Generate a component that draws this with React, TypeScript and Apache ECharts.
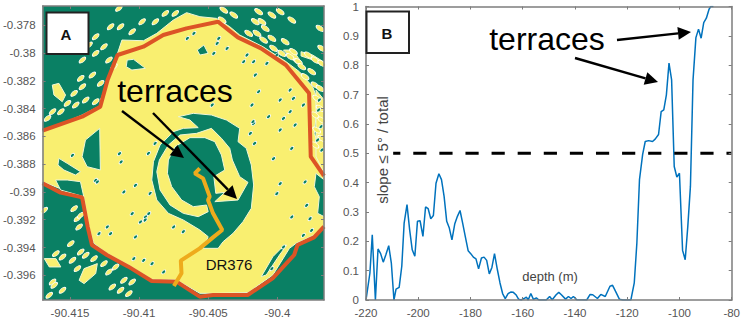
import React, { useEffect, useRef } from "react";
import * as echarts from "echarts";

type P = [number, number];

// Panel A – map values, longitude / latitude degrees
const lonTicks = [-90.415, -90.41, -90.405, -90.4];
const latTicks = [-0.378, -0.38, -0.382, -0.384, -0.386, -0.388, -0.39, -0.392, -0.394, -0.396];
const lonRange = [-90.41698, -90.39662];
const latRange = [-0.39778, -0.37661];

const surveyUpper: P[] = [[-90.41698,-0.38559],[-90.41412,-0.38458],[-90.41281,-0.38386],[-90.41228,-0.38194],[-90.41156,-0.38014],[-90.40969,-0.37954],[-90.40825,-0.3787],[-90.40657,-0.37822],[-90.40429,-0.37774],[-90.40285,-0.37887],[-90.40118,-0.37966],[-90.39938,-0.38086],[-90.3977,-0.3829],[-90.39758,-0.38746],[-90.39662,-0.38885]];
const surveyLower: P[] = [[-90.39662,-0.3925],[-90.39734,-0.39327],[-90.39854,-0.39382],[-90.39878,-0.39454],[-90.40034,-0.39622],[-90.40214,-0.39742],[-90.40465,-0.39742],[-90.40561,-0.39754],[-90.40729,-0.39646],[-90.40909,-0.39641],[-90.41077,-0.39538],[-90.41233,-0.39454],[-90.41341,-0.39382],[-90.41372,-0.3925],[-90.41412,-0.39039],[-90.41568,-0.39005],[-90.41698,-0.38938]];
const diveTrack: P[] = [[-90.40561,-0.3883],[-90.40597,-0.38866],[-90.40537,-0.38902],[-90.40489,-0.39034],[-90.40501,-0.39058],[-90.40465,-0.39154],[-90.40398,-0.39274],[-90.40465,-0.39327],[-90.40561,-0.39406],[-90.40698,-0.39495],[-90.40693,-0.39586],[-90.40748,-0.39677]];

const flatMain: P[] = [[-90.41698,-0.38566],[-90.41412,-0.38446],[-90.41285,-0.38381],[-90.4128,-0.38338],[-90.41208,-0.3817],[-90.41172,-0.3805],[-90.41124,-0.37906],[-90.40968,-0.37911],[-90.40872,-0.37858],[-90.40752,-0.37762],[-90.40656,-0.37709],[-90.4056,-0.37738],[-90.4044,-0.3775],[-90.40344,-0.3781],[-90.40272,-0.3787],[-90.40104,-0.37954],[-90.39936,-0.38062],[-90.3984,-0.38134],[-90.39744,-0.38242],[-90.39708,-0.38338],[-90.39732,-0.38578],[-90.39696,-0.38674],[-90.3966,-0.38866],[-90.3966,-0.3925],[-90.39732,-0.3931],[-90.39864,-0.3937],[-90.39912,-0.39406],[-90.40032,-0.39598],[-90.40212,-0.39725],[-90.40464,-0.3973],[-90.4056,-0.3973],[-90.40728,-0.39634],[-90.40908,-0.39629],[-90.41076,-0.39526],[-90.41232,-0.39442],[-90.41328,-0.3937],[-90.41364,-0.3925],[-90.414,-0.39034],[-90.41484,-0.3901],[-90.41698,-0.38926]];
const flatBlobA: P[] = [[-90.41628,-0.3823],[-90.4158,-0.38218],[-90.41532,-0.38302],[-90.41556,-0.3835],[-90.41616,-0.38302]];
const flatBlobB: P[] = [[-90.41434,-0.39636],[-90.41398,-0.39552],[-90.41302,-0.39516],[-90.41314,-0.39588],[-90.41398,-0.3966]];
const flatBlobC: P[] = [[-90.41686,-0.3948],[-90.41602,-0.3948],[-90.41566,-0.3954],[-90.4165,-0.3954]];
const flatBeltA: P[] = [[-90.39828,-0.3799],[-90.39744,-0.38014],[-90.39667,-0.38062],[-90.39667,-0.38086],[-90.39756,-0.38045],[-90.39828,-0.38021]];
const flatBeltB: P[] = [[-90.39955,-0.37978],[-90.39888,-0.37978],[-90.39828,-0.38062],[-90.39864,-0.38074]];
const flatBeltEast: P[] = [[-90.3972,-0.38266],[-90.3966,-0.38338],[-90.3966,-0.38866],[-90.3972,-0.38746]];

const steepWest: P[] = [[-90.41388,-0.38626],[-90.41285,-0.38542],[-90.4128,-0.38842],[-90.41376,-0.38818],[-90.41412,-0.38746]];
const steepWestStrip: P[] = [[-90.4158,-0.38758],[-90.4152,-0.38794],[-90.41424,-0.38854],[-90.4146,-0.38878],[-90.41544,-0.38842],[-90.41587,-0.38806]];
const steepSouthwest: P[] = [[-90.41604,-0.38914],[-90.4152,-0.38914],[-90.41424,-0.38926],[-90.414,-0.39034],[-90.41568,-0.38986]];
const steepEast: P[] = [[-90.3972,-0.38866],[-90.3966,-0.38914],[-90.3966,-0.39178],[-90.39708,-0.39154],[-90.39696,-0.39034],[-90.39732,-0.38962]];
const steepSoutheast: P[] = [[-90.39931,-0.39382],[-90.39984,-0.39454],[-90.4008,-0.39598],[-90.40116,-0.3961],[-90.40032,-0.39466],[-90.3996,-0.39394]];
const steepNorth: P[] = [[-90.40579,-0.37978],[-90.40531,-0.37942],[-90.405,-0.38002],[-90.4056,-0.38014]];
const steepNorthwest: P[] = [[-90.41086,-0.3805],[-90.4104,-0.38045],[-90.40954,-0.3811],[-90.41052,-0.38122],[-90.41093,-0.38098]];
const craterOuter: P[] = [[-90.40716,-0.38458],[-90.40608,-0.38434],[-90.40476,-0.38446],[-90.40368,-0.38482],[-90.40272,-0.38542],[-90.40284,-0.38638],[-90.40224,-0.38686],[-90.40188,-0.38806],[-90.40171,-0.3895],[-90.40188,-0.39118],[-90.40248,-0.39214],[-90.4032,-0.39298],[-90.40392,-0.39358],[-90.40428,-0.39406],[-90.40536,-0.39406],[-90.405,-0.39322],[-90.4056,-0.39274],[-90.4068,-0.39202],[-90.40788,-0.39154],[-90.40872,-0.39058],[-90.40908,-0.38914],[-90.40896,-0.38782],[-90.40848,-0.38662],[-90.40752,-0.38566],[-90.4068,-0.38542],[-90.40572,-0.38537],[-90.40632,-0.38482]];
const craterTerrace: P[] = [[-90.40572,-0.39178],[-90.4068,-0.39154],[-90.40776,-0.39094],[-90.40848,-0.38986],[-90.40872,-0.38854],[-90.40853,-0.3877],[-90.40788,-0.38662],[-90.40704,-0.3859],[-90.40584,-0.38578],[-90.40476,-0.38542],[-90.40404,-0.38614],[-90.40344,-0.38686],[-90.40325,-0.3877],[-90.40272,-0.3889],[-90.40212,-0.38931],[-90.40284,-0.39058],[-90.40452,-0.3907],[-90.4038,-0.39003],[-90.40445,-0.3901],[-90.40459,-0.3889],[-90.4038,-0.38842],[-90.40404,-0.38734],[-90.40452,-0.38638],[-90.40524,-0.38609],[-90.40632,-0.38609],[-90.4074,-0.38674],[-90.40788,-0.3877],[-90.40795,-0.38866],[-90.40764,-0.38962],[-90.40692,-0.39058],[-90.40608,-0.39106],[-90.40512,-0.39094],[-90.405,-0.39142]];

const westSpecks: P[] = [[-90.41314,-0.37882],[-90.41362,-0.37942],[-90.41206,-0.3781],[-90.41134,-0.3781],[-90.4105,-0.37846],[-90.4141,-0.3805],[-90.41314,-0.38002],[-90.41254,-0.37954],[-90.41218,-0.3805],[-90.41182,-0.38098],[-90.41338,-0.38158],[-90.41422,-0.38182],[-90.41278,-0.38218],[-90.4141,-0.38242],[-90.4147,-0.3829],[-90.41518,-0.38362],[-90.41386,-0.38338],[-90.41458,-0.38374],[-90.41314,-0.3835],[-90.41566,-0.38422],[-90.41626,-0.38422],[-90.41662,-0.3847],[-90.40978,-0.37774],[-90.40882,-0.37774],[-90.4081,-0.37714],[-90.40738,-0.37714],[-90.41146,-0.37678],[-90.41554,-0.39468],[-90.41482,-0.39492],[-90.41446,-0.39552],[-90.41602,-0.39444],[-90.41626,-0.39648],[-90.41554,-0.39708],[-90.41614,-0.39672],[-90.41194,-0.39684],[-90.41134,-0.39708],[-90.41074,-0.39732],[-90.4111,-0.39636],[-90.4105,-0.39648],[-90.41218,-0.39576],[-90.41326,-0.3948],[-90.41422,-0.39432],[-90.41386,-0.39456],[-90.41254,-0.39516],[-90.4117,-0.3954],[-90.4147,-0.3912],[-90.41446,-0.39192],[-90.41422,-0.39168],[-90.41434,-0.39252],[-90.41494,-0.39372],[-90.4165,-0.39744],[-90.41686,-0.39132]];
const eastSpecks: P[] = [[-90.40387,-0.3769],[-90.40399,-0.37762],[-90.40159,-0.37774],[-90.40111,-0.37774],[-90.40087,-0.37822],[-90.40039,-0.37726],[-90.39979,-0.37702],[-90.39895,-0.37762],[-90.40135,-0.37702],[-90.40207,-0.37858],[-90.40147,-0.37858],[-90.40099,-0.37906],[-90.40039,-0.37894],[-90.40027,-0.37966],[-90.39967,-0.38002],[-90.39943,-0.37918],[-90.39883,-0.3799],[-90.39907,-0.38026],[-90.39775,-0.38014],[-90.39727,-0.3805],[-90.39679,-0.38074],[-90.39847,-0.38062],[-90.39823,-0.38098],[-90.39799,-0.3817],[-90.39751,-0.38134],[-90.39727,-0.3823],[-90.39691,-0.38254],[-90.39715,-0.38326],[-90.39691,-0.38398],[-90.39727,-0.38446],[-90.39679,-0.38482],[-90.39715,-0.38554],[-90.39679,-0.38614],[-90.39727,-0.38662],[-90.39691,-0.37822],[-90.39679,-0.37966],[-90.40315,-0.37726]];
const steepSpecks: P[] = [[-90.40243,-0.38062],[-90.40171,-0.38062],[-90.40075,-0.38074],[-90.40003,-0.38014],[-90.40219,-0.38014],[-90.40435,-0.3793],[-90.40423,-0.37894],[-90.40363,-0.37966],[-90.40459,-0.38002],[-90.40603,-0.37858],[-90.40651,-0.37894],[-90.40159,-0.38158],[-90.40135,-0.38278],[-90.40183,-0.38374],[-90.39979,-0.38338],[-90.39907,-0.38266],[-90.39883,-0.38326],[-90.39907,-0.38422],[-90.40063,-0.38458],[-90.39955,-0.3847],[-90.40171,-0.38506],[-90.39979,-0.38554],[-90.39871,-0.38518],[-90.39811,-0.38374],[-90.39895,-0.38686],[-90.40195,-0.38578],[-90.40471,-0.38374],[-90.41482,-0.38736],[-90.41142,-0.38724],[-90.4113,-0.38784],[-90.41314,-0.38916],[-90.41026,-0.38952],[-90.4111,-0.39],[-90.4093,-0.39156],[-90.4105,-0.39156],[-90.4123,-0.39252],[-90.4129,-0.393],[-90.41206,-0.393],[-90.41026,-0.39324],[-90.4099,-0.39216],[-90.41038,-0.3948],[-90.40966,-0.39492],[-90.40906,-0.39516],[-90.40822,-0.39576],[-90.40954,-0.3918],[-90.4075,-0.39252],[-90.41302,-0.38928],[-90.39979,-0.3894],[-90.40003,-0.39012],[-90.39799,-0.38928],[-90.39787,-0.39096],[-90.39763,-0.39192],[-90.39895,-0.3918],[-90.39811,-0.39312],[-90.39751,-0.39276],[-90.39955,-0.39396],[-90.40039,-0.39552],[-90.40027,-0.3876],[-90.40932,-0.38722],[-90.40884,-0.3865],[-90.40956,-0.39202],[-90.40164,-0.3865],[-90.40176,-0.38494],[-90.4092,-0.3901],[-90.4068,-0.39286],[-90.39701,-0.3841],[-90.39684,-0.3853],[-90.39708,-0.38626],[-90.39677,-0.38698],[-90.39696,-0.38338]];

// Panel B – flat-slope share against depth
const depth = [-220,-218.5,-217.6,-216.4,-215.4,-214.4,-213.4,-212.4,-211.3,-210.3,-209.3,-208.5,-207.3,-206.3,-205.4,-204.3,-203.3,-202.3,-201.3,-200.3,-199.3,-198.2,-197.2,-196.2,-195.2,-194.2,-193.2,-192.1,-191.1,-190.1,-189.1,-188.1,-187.1,-186,-185,-184,-183,-182,-180.9,-179.9,-178.9,-177.9,-176.9,-175.8,-174.8,-173.8,-172.8,-171.8,-170.8,-169.7,-168.7,-167.7,-166.7,-165.6,-164.6,-163.6,-162.6,-161.6,-160.6,-159.5,-158.6,-157.9,-156.9,-155.9,-154.8,-153.8,-151,-149.7,-148.7,-147.2,-146.2,-145.2,-143.6,-142.5,-141.5,-140.6,-139.3,-135.5,-134.2,-133.2,-131.4,-130.1,-128.4,-126.6,-125.6,-124.5,-123,-121.7,-118.6,-117.3,-116.3,-115.3,-114.1,-113.1,-111.8,-110.3,-109.3,-108,-107,-106,-105,-104,-103,-102,-101,-100,-98.8,-97.8,-96.8,-95.8,-94.8,-93.7,-92.7,-91.7,-90.7,-89.7,-88.7,-88,-87];
const share = [0,0.092,0.222,0,0.174,0.158,0.129,0.154,0.185,0.126,0,0.037,0.043,0.115,0.262,0.325,0.24,0.171,0.149,0.268,0.27,0.217,0.317,0.311,0.277,0.288,0.398,0.43,0.41,0.353,0.268,0.245,0.205,0.26,0.285,0.305,0.262,0.217,0.168,0.158,0.146,0.14,0.106,0.143,0.146,0.135,0.089,0.111,0.158,0.103,0.058,0.022,0.005,0.022,0.027,0.026,0.018,0.003,0,0.005,0.01,0,0.022,0.002,0.007,0,0,0.012,0.001,0.018,0.026,0.018,0.003,0.012,0.005,0.012,0.001,0,0.019,0.018,0.005,0.019,0.012,0.047,0.05,0.03,0.003,0,0,0.058,0.194,0.41,0.495,0.54,0.543,0.54,0.548,0.564,0.642,0.648,0.699,0.807,0.75,0.455,0.419,0.432,0.169,0.137,0.251,0.387,0.75,0.894,0.923,0.892,0.945,0.96,0.99,1,1];
const thresholdDepth = [-209.6, -80];
const thresholdShare = [0.5, 0.5];
const depthRange = [-220, -80];

const GREEN = "#0a8064";
const YELLOW = "#f9ef70";
const HALO = "#eef7d8";
const FONT = "'Liberation Sans', Arial, sans-serif";
const AXIS = "#7d7d7d";
const LABEL = "#555555";

function polygonLayer(polys: P[][], color: string, z: number) {
  return {
    type: "custom",
    coordinateSystem: "cartesian2d",
    xAxisIndex: 0,
    yAxisIndex: 0,
    z,
    silent: true,
    clip: true,
    encode: { x: 0, y: 1 },
    data: polys.map((p) => p[0]),
    renderItem: (params: any, api: any) => ({
      type: "polygon",
      shape: { points: polys[params.dataIndex].map((pt) => api.coord(pt)) },
      style: { fill: color, stroke: HALO, lineWidth: 1 },
    }),
  };
}

function specks(data: P[], color: string, size: any, rotate: number, z: number) {
  return {
    type: "scatter",
    xAxisIndex: 0,
    yAxisIndex: 0,
    data,
    z,
    clip: true,
    silent: true,
    symbol: "circle",
    symbolSize: size,
    symbolRotate: rotate,
    itemStyle: { color, borderColor: "#ffffff", borderWidth: 0.8, opacity: 1 },
  };
}

function arrow(x1: number, y1: number, x2: number, y2: number) {
  const a = Math.atan2(y2 - y1, x2 - x1);
  const len = 13;
  const hw = 6.5;
  const bx = x2 - len * Math.cos(a);
  const by = y2 - len * Math.sin(a);
  const nx = -Math.sin(a);
  const ny = Math.cos(a);
  return [
    { type: "line", z: 100, shape: { x1, y1, x2: bx, y2: by }, style: { stroke: "#000", lineWidth: 2.4 } },
    {
      type: "polygon",
      z: 100,
      shape: { points: [[x2, y2], [bx + nx * hw, by + ny * hw], [bx - nx * hw, by - ny * hw]] },
      style: { fill: "#000" },
    },
  ];
}

function label(text: string, x: number, y: number, size: number, fill: string, weight = "normal", rotation = 0) {
  return {
    type: "text",
    z: 101,
    x,
    y,
    rotation,
    style: { text, fontSize: size, fontFamily: FONT, fill, fontWeight: weight, align: "center", verticalAlign: "middle" },
  };
}

const frameAxis = (extra: any) => ({
  type: "value",
  z: 5,
  splitLine: { show: false },
  axisLine: { show: true, onZero: false, lineStyle: { color: AXIS, width: 1.5 } },
  axisTick: { show: true, inside: true, length: 3, lineStyle: { color: AXIS, width: 1 } },
  axisLabel: { show: false },
  ...extra,
});

const tickLabel = { show: true, color: LABEL, fontFamily: FONT, fontSize: 11.5, margin: 7, hideOverlap: false };

export default function App() {
  const ref = useRef<HTMLDivElement>(null);
  useEffect(() => {
    const chart = echarts.init(ref.current!, undefined, { renderer: "svg" });
    const lonAxis = {
      gridIndex: 0,
      min: lonRange[0],
      max: lonRange[1],
      axisTick: { show: true, inside: true, length: 3, customValues: lonTicks, lineStyle: { color: AXIS, width: 1 } },
    };
    const latAxis = {
      gridIndex: 0,
      min: latRange[0],
      max: latRange[1],
      axisTick: { show: true, inside: true, length: 3, customValues: latTicks, lineStyle: { color: AXIS, width: 1 } },
    };
    chart.setOption({
      animation: false,
      grid: [
        { left: 42, top: 6, width: 282, height: 294, show: true, backgroundColor: GREEN, borderWidth: 0 },
        { left: 366, top: 6.5, width: 367, height: 293.5, show: false },
      ],
      xAxis: [
        frameAxis({
          ...lonAxis,
          position: "bottom",
          axisLabel: { ...tickLabel, customValues: lonTicks, formatter: (v: number) => String(v) },
        }),
        frameAxis({ ...lonAxis, position: "top" }),
        frameAxis({ gridIndex: 1, min: depthRange[0], max: depthRange[1], interval: 20, position: "bottom", axisLabel: tickLabel }),
        frameAxis({ gridIndex: 1, min: depthRange[0], max: depthRange[1], interval: 20, position: "top" }),
      ],
      yAxis: [
        frameAxis({
          ...latAxis,
          position: "left",
          axisLabel: { ...tickLabel, customValues: latTicks, formatter: (v: number) => String(v) },
        }),
        frameAxis({ ...latAxis, position: "right" }),
        frameAxis({ gridIndex: 1, min: 0, max: 1, interval: 0.1, position: "left", axisLabel: tickLabel }),
        frameAxis({ gridIndex: 1, min: 0, max: 1, interval: 0.1, position: "right" }),
      ],
      series: [
        polygonLayer([flatMain, flatBlobA, flatBlobB, flatBlobC, flatBeltA, flatBeltB, flatBeltEast], YELLOW, 2),
        specks(westSpecks, YELLOW, [8, 4], 40, 2.2),
        specks(eastSpecks, YELLOW, [9, 4.5], -35, 2.2),
        polygonLayer([steepWest, steepWestStrip, steepSouthwest, steepEast, steepSoutheast, steepNorth, steepNorthwest, craterOuter], GREEN, 3),
        polygonLayer([craterTerrace], YELLOW, 3.2),
        specks(steepSpecks, GREEN, [5, 3], 45, 3.4),
        {
          type: "line",
          name: "survey upper",
          xAxisIndex: 0,
          yAxisIndex: 0,
          z: 4,
          data: surveyUpper,
          showSymbol: false,
          silent: true,
          lineStyle: { color: "#dc5426", width: 4 },
        },
        {
          type: "line",
          name: "survey lower",
          xAxisIndex: 0,
          yAxisIndex: 0,
          z: 4,
          data: surveyLower,
          showSymbol: false,
          silent: true,
          lineStyle: { color: "#dc5426", width: 4 },
        },
        {
          type: "line",
          name: "DR376",
          xAxisIndex: 0,
          yAxisIndex: 0,
          z: 4.5,
          data: diveTrack,
          showSymbol: false,
          silent: true,
          lineStyle: { color: "#eeab1c", width: 4 },
        },
        {
          type: "line",
          xAxisIndex: 2,
          yAxisIndex: 2,
          data: depth.map((d, i) => [d, share[i]]),
          showSymbol: false,
          silent: true,
          lineStyle: { color: "#0072bd", width: 1.5 },
        },
        {
          type: "line",
          xAxisIndex: 2,
          yAxisIndex: 2,
          data: thresholdDepth.map((d, i) => [d, thresholdShare[i]]),
          showSymbol: false,
          silent: true,
          lineStyle: { color: "#000", width: 3, type: [13.2, 12.9], dashOffset: 6 },
        },
      ],
      graphic: [
        { type: "rect", z: 100, shape: { x: 46.5, y: 12.5, width: 42, height: 41.5 }, style: { fill: "#fff", stroke: "#222", lineWidth: 2 } },
        { type: "rect", z: 100, shape: { x: 366.5, y: 11.5, width: 42.5, height: 41.5 }, style: { fill: "#fff", stroke: "#222", lineWidth: 2 } },
        label("A", 66, 34, 15, "#111", "bold"),
        label("B", 387, 33, 15, "#111", "bold"),
        label("terraces", 175, 91, 32, "#000"),
        label("terraces", 547, 39, 32, "#000"),
        label("DR376", 229, 264, 15, "#111"),
        label("depth (m)", 550, 276, 13, "#444"),
        label("slope \u2264 5\u00b0 / total", 382, 150, 15, "#444", "normal", Math.PI / 2),
        ...arrow(122, 111, 184, 158),
        ...arrow(153, 113, 237, 199),
        ...arrow(617, 40, 691, 32),
        ...arrow(575, 58, 658, 82),
      ],
    });
    return () => chart.dispose();
  }, []);
  return <div ref={ref} style={{ position: "absolute", left: 0, top: 0, width: 743, height: 320 }} />;
}
